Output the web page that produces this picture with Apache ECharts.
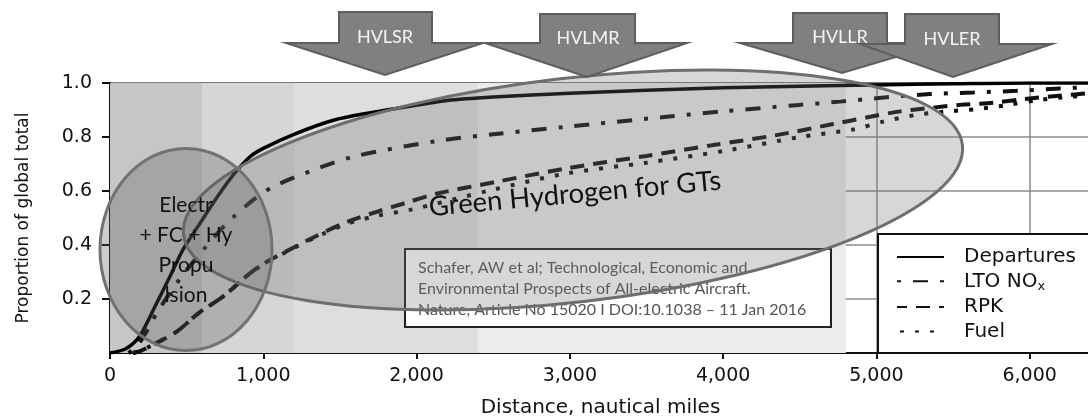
<!DOCTYPE html>
<html><head><meta charset="utf-8">
<script src="https://cdn.jsdelivr.net/npm/echarts@6/dist/echarts.min.js"></script>
<style>html,body{margin:0;padding:0;background:#fff}#c{width:1088px;height:417px}</style>
</head><body><div id="c"></div>
<script>
// ---- data (distance in nautical miles, proportion of global total) ----
const seriesNames = ['Departures', 'LTO NOx', 'RPK', 'Fuel'];
const departures = [[0,0],[100,0.015],[174,0.048],[217,0.085],[304,0.184],[391,0.283],[478,0.385],[587,0.48],[696,0.575],[804,0.66],[913,0.727],[1000,0.758],[1200,0.81],[1457,0.862],[1700,0.89],[1892,0.908],[2200,0.935],[2500,0.948],[3000,0.962],[3500,0.973],[4000,0.982],[4500,0.988],[5000,0.993],[5500,0.997],[6000,1.0],[6400,1.0]];
const ltoNox = [[120,0],[170,0.02],[217,0.06],[260,0.1],[304,0.147],[450,0.27],[598,0.375],[761,0.48],[935,0.567],[1065,0.616],[1315,0.675],[1587,0.727],[2131,0.785],[2500,0.81],[2979,0.838],[3631,0.875],[4000,0.895],[4478,0.918],[4762,0.931],[5066,0.947],[5349,0.959],[5632,0.965],[5914,0.971],[6197,0.98],[6400,0.985]];
const rpk = [[150,0],[200,0.008],[261,0.025],[435,0.079],[576,0.147],[739,0.21],[913,0.295],[1000,0.33],[1196,0.39],[1370,0.44],[1544,0.485],[1740,0.523],[1935,0.557],[2131,0.59],[2522,0.634],[2979,0.684],[3500,0.73],[3935,0.77],[4349,0.807],[4718,0.848],[5131,0.893],[5327,0.906],[5545,0.919],[5762,0.927],[5958,0.94],[6175,0.952],[6400,0.963]];
const fuel = [[150,0],[200,0.008],[261,0.025],[435,0.079],[576,0.147],[739,0.21],[913,0.295],[1000,0.328],[1196,0.388],[1370,0.436],[1544,0.478],[1740,0.508],[1957,0.53],[2500,0.605],[2979,0.665],[3500,0.705],[4044,0.752],[4501,0.8],[4849,0.828],[5045,0.857],[5251,0.881],[5447,0.894],[5653,0.903],[5860,0.919],[6056,0.937],[6262,0.949],[6400,0.955]];
const bandEdges = [0, 600, 1200, 2400, 4800];
const bandColors = ['#c6c6c6', '#d6d6d6', '#dedede', '#ececec'];
const arrowLabels = ['HVLSR', 'HVLMR', 'HVLLR', 'HVLER'];
const citation = ['Schafer, AW et al; Technological, Economic and', 'Environmental Prospects of All-electric Aircraft.', 'Nature, Article No 15020 I DOI:10.1038 \u2013 11 Jan 2016'];
const smallEllipseText = ['Electr', '+ FC + Hy', 'Propu', 'lsion'];
const bigEllipseText = 'Green Hydrogen for GTs';
const xLabel = 'Distance, nautical miles';
const yLabel = 'Proportion of global total';

// ---- layout ----
const FONT = 'DejaVu Sans';
const CAL = 'Lato';
const bands = [];
for (let i = 0; i < bandColors.length; i++) {
  bands.push([{ xAxis: bandEdges[i], itemStyle: { color: bandColors[i] } }, { xAxis: bandEdges[i + 1] }]);
}

function arrow(bl, br, top, base, hl, hr, tx, ty, z) {
  return {
    type: 'polygon', z: z,
    shape: { points: [[bl, top], [br, top], [br, base], [hr, base], [tx, ty], [hl, base], [bl, base]] },
    style: { fill: '#808080', stroke: '#5e5e5e', lineWidth: 2 }
  };
}
function arrowText(t, x, y) {
  return { type: 'text', x: x, y: y, z: 20,
    style: { text: t, fontSize: 18, fontFamily: CAL, fill: '#f4f4f4', align: 'center', verticalAlign: 'middle' } };
}

const chart = echarts.init(document.getElementById('c'), null, { renderer: 'canvas' });
const option = {
  animation: false,
  grid: { left: 110, right: -3, top: 83, bottom: 64, outerBoundsMode: 'none', containLabel: false,
    show: true, borderColor: '#444', borderWidth: 2, backgroundColor: 'transparent' },
  xAxis: {
    type: 'value', min: 0, max: 6400, interval: 1000,
    name: xLabel, nameLocation: 'middle', nameGap: 45,
    nameTextStyle: { fontFamily: FONT, fontSize: 20, color: '#111' },
    axisLine: { show: true, onZero: false, lineStyle: { color: '#111', width: 2 } },
    axisTick: { show: true, length: 6, lineStyle: { color: '#111', width: 2 } },
    axisLabel: { showMaxLabel: false, margin: 14, fontFamily: FONT, fontSize: 19, color: '#111',
      formatter: v => v.toLocaleString('en-US') },
    splitLine: { show: true, lineStyle: { color: '#8c8c8c', width: 1.5 } }
  },
  yAxis: {
    type: 'value', min: 0, max: 1, interval: 0.2,
    name: yLabel, nameLocation: 'middle', nameGap: 78,
    nameTextStyle: { fontFamily: FONT, fontSize: 17, color: '#111' },
    axisLine: { show: true, onZero: false, lineStyle: { color: '#111', width: 2 } },
    axisTick: { show: true, length: 8, lineStyle: { color: '#111', width: 2 } },
    axisLabel: { showMinLabel: false, margin: 18, fontFamily: FONT, fontSize: 19, color: '#111',
      formatter: v => v.toFixed(1) },
    splitLine: { show: true, lineStyle: { color: '#8c8c8c', width: 1.5 } }
  },
  legend: {
    data: seriesNames, orient: 'vertical', left: 896, top: 247, padding: 0,
    itemWidth: 47, itemHeight: 20, itemGap: 4.3,
    itemStyle: { opacity: 0 },
    formatter: n => n === 'LTO NOx' ? 'LTO NO{sub|x}' : n,
    textStyle: { fontFamily: FONT, fontSize: 20, color: '#111', padding: [0, 0, 0, 15],
      rich: { sub: { fontFamily: FONT, fontSize: 13, color: '#111', padding: [10, 0, 0, 0] } } },
    z: 6
  },
  series: [
    { name: 'bands', type: 'line', z: -1, data: [[0, 0]], symbol: 'none', lineStyle: { width: 0 }, silent: true,
      markArea: { silent: true, data: bands } },
    { name: seriesNames[0], type: 'line', data: departures, smooth: 0.3, symbol: 'none', z: 3,
      lineStyle: { color: '#000', width: 3.5 } },
    { name: seriesNames[1], type: 'line', data: ltoNox, smooth: 0.3, symbol: 'none', z: 3,
      lineStyle: { color: '#111', width: 4, type: [15, 12, 4, 12], dashOffset: 27 } },
    { name: seriesNames[2], type: 'line', data: rpk, smooth: 0.3, symbol: 'none', z: 3,
      lineStyle: { color: '#111', width: 4, type: [14, 9] } },
    { name: seriesNames[3], type: 'line', data: fuel, smooth: 0.3, symbol: 'none', z: 3,
      lineStyle: { color: '#111', width: 4, type: [4, 11] } }
  ],
  graphic: [
    { type: 'rect', z: 3, shape: { x: 878, y: 234, width: 230, height: 119 }, style: { fill: '#fff', stroke: '#111', lineWidth: 2 } },
    { type: 'rect', z: 5, shape: { x: 405, y: 249, width: 426, height: 78 }, style: { fill: '#fff', stroke: '#222', lineWidth: 2 } },
    { type: 'text', z: 6, x: 418, y: 289,
      style: { text: citation.join('\n'), fontSize: 16, fontFamily: CAL, fill: '#555', lineHeight: 21, align: 'left', verticalAlign: 'middle' } },
    { type: 'ellipse', z: 7, x: 573, y: 190, rotation: 0.115, shape: { cx: 0, cy: 0, rx: 392, ry: 112 },
      style: { fill: 'rgba(110,110,110,0.28)', stroke: '#6e6e6e', lineWidth: 3 } },
    { type: 'ellipse', z: 7, shape: { cx: 186, cy: 249.5, rx: 86, ry: 101 },
      style: { fill: 'rgba(90,90,90,0.3)', stroke: '#727272', lineWidth: 3 } },
    { type: 'text', z: 8, x: 575, y: 194, rotation: 0.091,
      style: { text: bigEllipseText, fontSize: 27.5, fontFamily: CAL, fill: '#111', align: 'center', verticalAlign: 'middle' } },
    { type: 'text', z: 8, x: 186, y: 250,
      style: { text: smallEllipseText.join('\n'), fontSize: 21, fontFamily: CAL, fill: '#111', lineHeight: 30, align: 'center', verticalAlign: 'middle' } },
    arrow(339, 432, 12, 43, 286, 483, 385, 75, 10),
    arrow(540, 635, 14, 43, 485, 687, 587, 77, 10),
    arrow(793, 887, 13, 43, 740, 943, 842, 73, 10),
    arrow(905, 999, 14, 44, 860, 1052, 953, 77, 12),
    arrowText(arrowLabels[0], 385, 37),
    arrowText(arrowLabels[1], 588, 38),
    arrowText(arrowLabels[2], 840, 37),
    arrowText(arrowLabels[3], 952, 39)
  ]
};
chart.setOption(option);
</script>
</body></html>
